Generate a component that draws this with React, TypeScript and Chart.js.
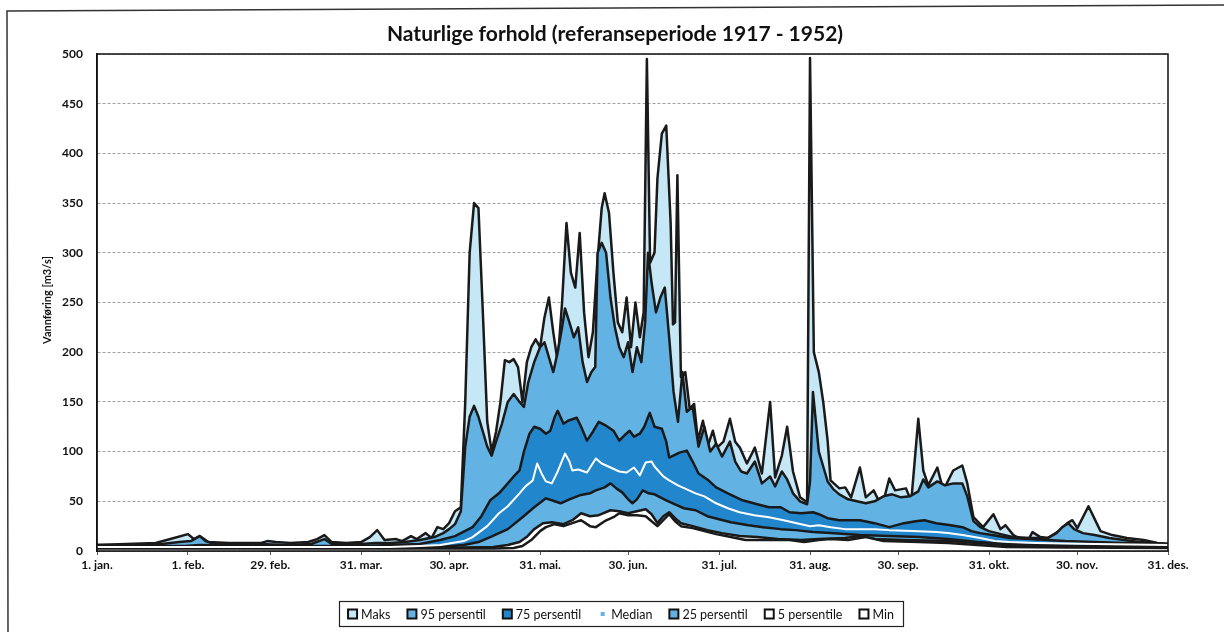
import React, { useEffect, useRef } from "react";
import { Chart, registerables } from "chart.js";

Chart.register(...registerables);

const chartTitle = "Naturlige forhold (referanseperiode 1917 - 1952)";
const yAxisTitle = "Vannføring [m3/s]";

const tickDays = [0, 31, 59, 90, 120, 151, 181, 212, 243, 273, 304, 334, 365];
const tickLabels = ["1. jan.", "1. feb.", "29. feb.", "31. mar.", "30. apr.", "31. mai.", "30. jun.", "31. jul.", "31. aug.", "30. sep.", "31. okt.", "30. nov.", "31. des."];

const seriesNames = ["Maks", "95 persentil", "75 persentil", "Median", "25 persentil", "5 persentile", "Min"];

const maksDays = [0, 10, 20, 25, 31, 33, 35, 38, 45, 52, 56, 58, 61, 66, 72, 75, 77.5, 80, 85, 90, 93, 95.5, 98, 102, 104, 107, 109, 112, 114, 116, 118, 120, 122, 124, 125.5, 127, 128.5, 130, 131.5, 133, 134.5, 136, 137.5, 139, 140.5, 142, 143.5, 145, 146.5, 148, 149.5, 151, 152.5, 154, 155.5, 157, 158.5, 160, 161.5, 163, 164.5, 166, 167.5, 169, 170.5, 172, 173, 174.5, 176, 177.5, 179, 180.5, 182, 183.5, 185, 186.3, 187.4, 188.5, 190, 191, 192.5, 194, 195.5, 196.3, 197, 197.8, 199, 200.5, 202, 203.5, 204.8, 206.5, 208.2, 209.9, 211.3, 213.5, 215.7, 217.5, 219.1, 221.5, 224.2, 226.6, 229.4, 231.1, 233.4, 235.2, 237.2, 239.6, 242, 243, 244.3, 246, 247.5, 249, 250, 253, 255, 257, 260, 262, 264.7, 267.5, 270, 272, 275.7, 277.5, 279.9, 281.6, 283.3, 286.4, 288.4, 291.8, 294.9, 296.6, 298.7, 302, 305.5, 307.9, 309.6, 312.3, 317, 318.8, 321.5, 324, 327.3, 330.7, 332.4, 334.1, 337.9, 342, 346, 351, 356.7, 361.4, 365];
const maksValues = [6, 7, 8, 12, 17, 12, 15, 9, 8, 8, 8, 10, 9, 8, 9, 12, 16, 9, 8, 9, 14, 21, 11, 12, 10, 15, 12, 18, 13, 24, 22, 28, 40, 44, 150, 300, 350, 345, 240, 130, 100, 120, 150, 192, 190, 193, 185, 150, 190, 205, 213, 205, 235, 255, 220, 190, 250, 330, 280, 265, 320, 240, 195, 220, 290, 345, 360, 340, 280, 230, 220, 255, 205, 250, 215, 240, 495, 290, 300, 375, 420, 428, 330, 228, 230, 378, 175, 180, 143, 148, 111, 131, 106, 121, 104, 110, 133, 110, 104, 88, 104, 78, 150, 74, 96, 125, 80, 54, 49, 496, 200, 180, 150, 111, 71, 63, 64, 54, 84, 54, 61, 44, 73, 61, 63, 50, 133, 81, 66, 84, 61, 81, 86, 68, 34, 24, 37, 22, 26, 16, 9, 19, 14, 13, 19, 28, 31, 23, 45, 20, 16, 13, 11, 8, 7];

const p95Days = [0, 15, 22, 28, 32, 35, 37, 40, 55, 65, 73, 77.5, 80, 90, 95, 100, 105, 110, 115, 118, 120, 122, 124, 125.5, 127, 128.5, 130, 131.5, 133, 134.5, 136, 138, 140, 142, 144, 145.5, 147, 149, 151, 152.5, 154, 155.5, 157, 158.5, 159.5, 161, 162.5, 164, 165.5, 167, 168.5, 169.8, 170.6, 172, 173.5, 175, 176.5, 178, 179.5, 181, 182.5, 184, 185.5, 186.8, 187.8, 189, 190.5, 192, 193.5, 195, 196.5, 198, 199.5, 201, 203, 205, 207, 209, 211, 213, 215.7, 217.5, 219.5, 221.5, 224.2, 226.6, 229.4, 231.1, 233.4, 235.2, 237.2, 239.6, 242, 243, 244, 245, 246, 247.5, 249, 251, 253, 256, 259, 262, 265, 268, 271, 274, 277, 279.9, 281.6, 283.3, 286.4, 289, 291.8, 294.9, 296.6, 298.7, 301, 304, 308, 312, 318, 324, 327, 329, 331, 333, 336, 340, 345, 350, 355, 360, 365];
const p95Values = [6, 6, 7, 9, 10, 15, 10, 7, 7, 6, 7, 12, 7, 7, 8, 8, 9, 11, 14, 18, 22, 27, 40, 105, 135, 146, 135, 120, 105, 96, 110, 128, 150, 158, 150, 145, 170, 190, 205, 210, 195, 180, 200, 225, 244, 230, 215, 225, 190, 170, 180, 185, 300, 310, 300, 255, 225, 205, 195, 210, 180, 205, 190, 230, 300, 270, 240, 255, 265, 215, 160, 130, 180, 140, 145, 105, 125, 100, 108, 95, 110, 90, 80, 78, 90, 68, 75, 65, 80, 72, 58, 50, 47, 70, 160, 130, 100, 85, 70, 62, 57, 52, 50, 48, 50, 55, 57, 54, 55, 60, 72, 64, 70, 66, 68, 68, 55, 30, 24, 20, 17, 14, 13, 13, 18, 24, 28, 22, 18, 16, 13, 11, 9, 8, 7];

const p75Days = [0, 30, 35, 60, 90, 100, 110, 117, 122, 128, 131, 134, 137, 140, 142, 144, 145.5, 147.4, 149, 151, 153, 154.5, 156, 157, 159, 160.5, 163.5, 165, 167, 169, 171, 173, 176, 178, 180, 181.5, 183, 185, 186.5, 188.4, 190, 192.5, 194, 195, 198.5, 201, 203, 205, 208, 211, 215, 220, 225, 229, 233, 236, 240, 244, 246, 249, 253, 260, 265, 270, 275, 279, 282, 286, 291, 295, 298, 301, 305, 311, 318, 330, 340, 350, 365];
const p75Values = [5, 5, 6, 5, 5, 6, 7, 11, 15, 24, 35, 51, 58, 68, 75, 81, 100, 118, 125, 123, 118, 121, 135, 141, 128, 131, 134, 125, 111, 120, 130, 127, 121, 111, 117, 121, 115, 118, 125, 139, 125, 123, 110, 94, 99, 101, 90, 78, 72, 64, 58, 51, 47, 44, 44, 39, 38, 39, 37, 33, 31, 31, 28, 24, 28, 30, 31, 28, 26, 24, 20, 18, 16, 13, 12, 10, 9, 8, 7];

const medianDays = [0, 60, 100, 110, 117, 125, 128, 133, 137, 140, 144, 146, 148.5, 150, 151.5, 153, 155, 157, 159.5, 161, 162, 164, 167, 170, 172, 175, 178, 180.5, 183, 185, 187, 189, 190, 193, 195, 198, 201, 204, 207, 211, 215, 219, 224, 229, 234, 238.5, 243, 246, 250, 255, 260, 265, 270, 278, 286, 290, 295, 301, 306, 311, 320, 340, 365];
const medianValues = [4, 4, 4, 5, 6, 10, 14, 25, 38, 45, 58, 65, 71, 88, 78, 70, 68, 80, 98, 90, 81, 82, 79, 93, 88, 84, 80, 79, 84, 76, 89, 90, 85, 75, 71, 66, 62, 58, 55, 48, 43, 39, 36, 34, 31, 28, 25, 26, 24, 22, 22, 22, 21, 20, 19, 18, 16, 13, 10, 9, 8, 7, 6];

const p25Days = [0, 100, 117, 125, 130, 134, 140, 145, 149, 153, 156, 158, 161, 164.5, 168, 170, 173, 175, 177, 179, 181, 182.5, 184, 186, 188, 190, 192, 194, 197, 200, 204, 208, 212, 216, 222, 227, 233, 238, 244, 250, 260, 270, 280, 290, 300, 310, 320, 340, 365];
const p25Values = [3.5, 3.5, 4, 6, 9, 14, 22, 34, 44, 53, 50, 48, 52, 56, 58, 61, 64, 68, 63, 59, 52, 48, 52, 61, 58, 57, 54, 51, 47, 43, 41, 35, 32, 29, 26, 24, 22, 21, 19, 18, 16, 15, 14, 12, 9, 7, 6, 5, 5];

const p5Days = [0, 110, 125, 135, 140, 144, 146.4, 149, 152, 155, 159, 162, 165, 168, 171, 175, 178, 181, 184, 187, 189, 191, 193, 195, 197, 199, 203, 208, 213, 219, 225, 232, 240, 246, 255, 260, 265, 275, 290, 300, 310, 330, 365];
const p5Values = [3, 3, 3.5, 4, 6, 9, 14, 22, 28, 29, 27, 31, 38, 35, 36, 41, 40, 38, 40, 42, 37, 28, 35, 39, 33, 28, 25, 21, 18, 15, 14, 12, 11, 12, 13, 15, 12, 11, 10, 8, 6, 4.5, 4];

const minDays = [0, 120, 135, 142, 145, 148, 151, 153, 156, 159, 162, 165, 168, 170, 173, 176, 178, 181, 184, 187, 189, 191, 193, 195, 197, 199, 203, 207, 211, 216, 221, 228, 236, 241, 246, 250, 256, 262, 268, 280, 290, 300, 310, 330, 365];
const minValues = [2.5, 2.5, 2.5, 3, 5, 11, 20, 24, 27, 25, 28, 31, 25, 24, 30, 34, 38, 36, 36, 35, 30, 25, 31, 37, 30, 25, 23, 20, 17, 14, 11, 11, 11, 9, 11, 12, 11, 14, 10, 9, 8, 6, 4, 3.5, 3];

const LIGHT = "#c6e7f6";
const MID = "#62b3e4";
const DARK = "#2286cd";
const LINE = "#1a1a1a";

const legendFill = [LIGHT, MID, DARK, MID, MID, "#ffffff", "#ffffff"];

function pts(days: number[], vals: number[]) {
  return days.map((d, i) => ({ x: d, y: vals[i] }));
}

const decorPlugin = {
  id: "decor",
  afterDatasetsDraw(chart: any) {
    const { ctx, chartArea } = chart;
    const { left, top, right, bottom } = chartArea;
    ctx.save();
    ctx.strokeStyle = "#111";
    ctx.lineWidth = 1.5;
    ctx.strokeRect(left, top, right - left, bottom - top);
    ctx.restore();
  },
  afterDraw(chart: any) {
    const { ctx } = chart;
    ctx.save();
    // outer frame
    ctx.strokeStyle = "#333";
    ctx.lineWidth = 1.5;
    ctx.beginPath();
    ctx.moveTo(8, 632);
    ctx.lineTo(7, 11);
    ctx.lineTo(1224, 5);
    ctx.stroke();

    // title
    ctx.fillStyle = "#111";
    ctx.font = "bold 21px Lato";
    ctx.textAlign = "center";
    ctx.textBaseline = "middle";
    ctx.fillText(chartTitle, 615, 34);

    // y axis title
    ctx.save();
    ctx.translate(47, 300);
    ctx.rotate(-Math.PI / 2);
    ctx.font = "bold 11px Lato";
    ctx.fillText(yAxisTitle, 0, 0);
    ctx.restore();

    // legend
    ctx.font = "12.5px Lato";
    ctx.textAlign = "left";
    const box = 9;
    const gapBT = 4;
    const gapItem = 17;
    const widths = seriesNames.map((n) => box + gapBT + ctx.measureText(n).width);
    const total = widths.reduce((a, b) => a + b, 0) + gapItem * (seriesNames.length - 1);
    const cy = 614;
    let x = 621 - total / 2;
    ctx.strokeStyle = "#222";
    ctx.lineWidth = 1.2;
    ctx.strokeRect(Math.round(x - 9) + 0.5, cy - 12.5, Math.round(total + 18), 25);
    seriesNames.forEach((n, i) => {
      if (i === 3) {
        ctx.fillStyle = MID;
        ctx.fillRect(x + 2.5, cy - 2, 4, 4);
      } else {
        ctx.fillStyle = legendFill[i];
        ctx.fillRect(x, cy - box / 2, box, box);
        ctx.strokeStyle = "#111";
        ctx.lineWidth = 2;
        ctx.strokeRect(x, cy - box / 2, box, box);
      }
      ctx.fillStyle = "#111";
      ctx.fillText(n, x + box + gapBT, cy + 0.5);
      x += widths[i] + gapItem;
    });
    ctx.restore();
  },
};

export default function App() {
  const ref = useRef<HTMLCanvasElement | null>(null);

  useEffect(() => {
    if (!ref.current) return;
    const common = {
      pointRadius: 0,
      pointHoverRadius: 0,
      tension: 0,
      borderJoinStyle: "round" as const,
    };
    const chart = new Chart(ref.current, {
      type: "line",
      data: {
        datasets: [
          { label: seriesNames[0], data: pts(maksDays, maksValues), borderColor: LINE, borderWidth: 2.5, backgroundColor: LIGHT, fill: "origin", order: 7, ...common },
          { label: seriesNames[1], data: pts(p95Days, p95Values), borderColor: LINE, borderWidth: 2.5, backgroundColor: MID, fill: "origin", order: 6, ...common },
          { label: seriesNames[2], data: pts(p75Days, p75Values), borderColor: LINE, borderWidth: 2.5, backgroundColor: DARK, fill: "origin", order: 5, ...common },
          { label: seriesNames[3], data: pts(medianDays, medianValues), borderColor: "#ffffff", borderWidth: 2, fill: false, order: 1, ...common },
          { label: seriesNames[4], data: pts(p25Days, p25Values), borderColor: LINE, borderWidth: 2.5, backgroundColor: MID, fill: "origin", order: 4, ...common },
          { label: seriesNames[5], data: pts(p5Days, p5Values), borderColor: LINE, borderWidth: 2.5, backgroundColor: "#ffffff", fill: "origin", order: 3, ...common },
          { label: seriesNames[6], data: pts(minDays, minValues), borderColor: LINE, borderWidth: 2.5, backgroundColor: "#ffffff", fill: "origin", order: 2, ...common },
        ],
      },
      options: {
        animation: false,
        responsive: true,
        maintainAspectRatio: false,
        layout: { padding: { top: 54, right: 56, bottom: 0, left: 0 } },
        plugins: {
          legend: { display: false },
          title: { display: false },
          tooltip: { enabled: false },
        },
        scales: {
          x: {
            type: "linear",
            min: 0,
            max: 365,
            afterBuildTicks: (scale: any) => {
              scale.ticks = tickDays.map((v) => ({ value: v }));
            },
            afterFit: (scale: any) => {
              scale.height = 81;
            },
            ticks: {
              autoSkip: false,
              maxRotation: 0,
              padding: 3,
              color: "#111",
              font: { family: "Lato", size: 12, weight: "bold" },
              callback: (value: any) => {
                const i = tickDays.indexOf(Number(value));
                return i >= 0 ? tickLabels[i] : "";
              },
            },
            grid: { drawOnChartArea: false, drawTicks: true, tickLength: 4, color: "#555" },
            border: { display: true, color: "#111", width: 1.5 },
          },
          y: {
            min: 0,
            max: 500,
            afterFit: (scale: any) => {
              scale.width = 97;
            },
            ticks: {
              stepSize: 50,
              padding: 14,
              color: "#111",
              font: { family: "Lato", size: 12, weight: "bold" },
            },
            grid: { drawTicks: false, color: "#a0a0a0", lineWidth: 1 },
            border: { display: true, color: "#111", width: 1.5, dash: [3, 2] },
          },
        },
      },
      plugins: [decorPlugin],
    } as any);
    return () => chart.destroy();
  }, []);

  return (
    <div style={{ position: "absolute", left: 0, top: 0, width: 1224, height: 632, background: "#fff" }}>
      <canvas ref={ref} />
    </div>
  );
}
